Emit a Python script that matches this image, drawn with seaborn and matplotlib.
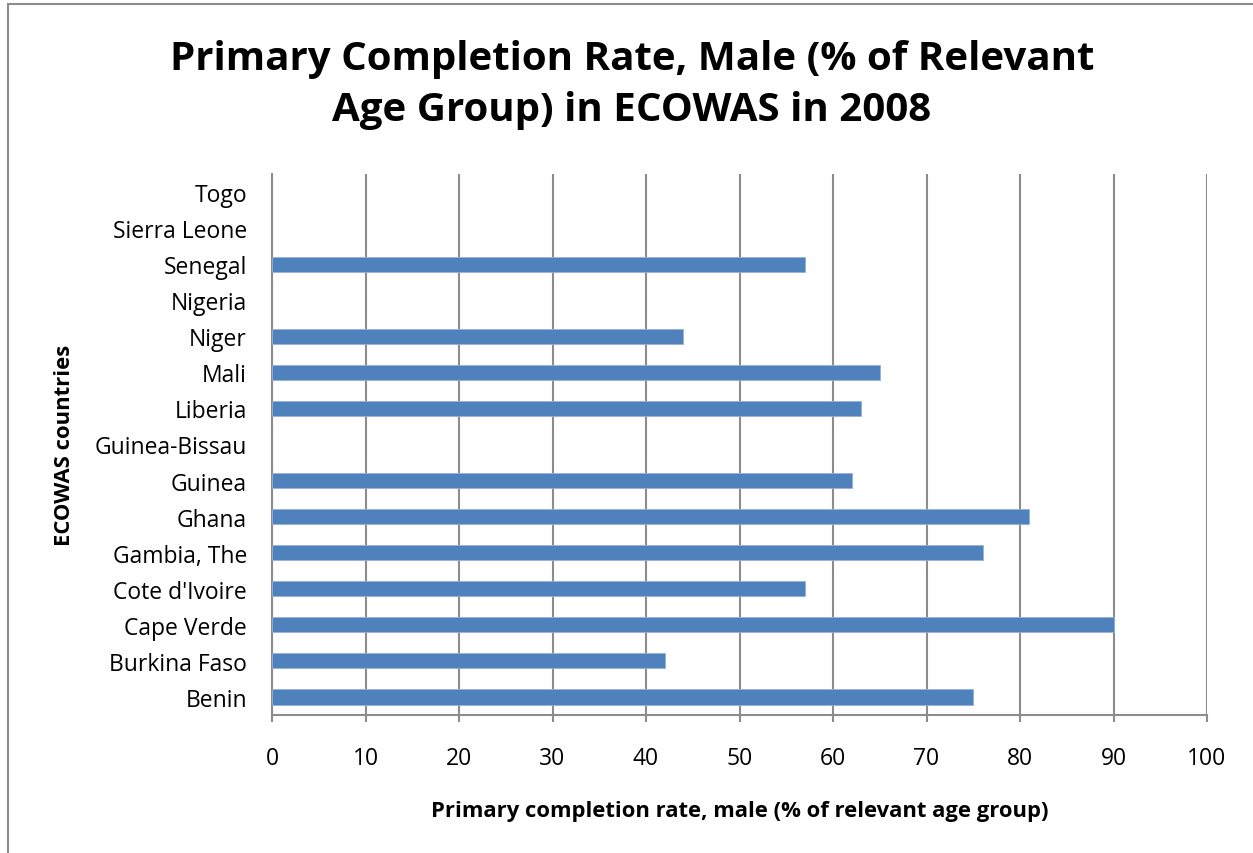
import numpy as np
import pandas as pd
import matplotlib
matplotlib.use("Agg")
import matplotlib.pyplot as plt
import seaborn as sns
from matplotlib.patches import Rectangle

# data (top to bottom as shown)
countries = ['Togo', 'Sierra Leone', 'Senegal', 'Nigeria', 'Niger', 'Mali',
             'Liberia', 'Guinea-Bissau', 'Guinea', 'Ghana', 'Gambia, The',
             "Cote d'Ivoire", 'Cape Verde', 'Burkina Faso', 'Benin']
completion_male = [np.nan, np.nan, 57, np.nan, 44, 65, 63, np.nan, 62, 81, 76,
                   57, 90, 42, 75]
x_ticks = [0, 10, 20, 30, 40, 50, 60, 70, 80, 90, 100]

df = pd.DataFrame({'country': countries, 'rate': completion_male})

sns.set_theme(style="white")
plt.rcParams['font.family'] = ['Open Sans', 'DejaVu Sans']
plt.rcParams['text.color'] = 'black'
plt.rcParams['axes.labelcolor'] = 'black'

fig = plt.figure(figsize=(12.53, 8.54), dpi=100)
ax = fig.add_axes([272 / 1253, 1 - 716 / 854, (1207 - 272) / 1253, (716 - 175) / 854])

sns.barplot(data=df, x='rate', y='country', order=countries, orient='h',
            color='#4F81BD', saturation=1, width=0.42, ax=ax, zorder=3)
for p in ax.patches:
    p.set_edgecolor('#95B3D7')
    p.set_linewidth(0.6)

ax.set_xlim(0, 100)
ax.set_ylim(len(countries) - 0.5, -0.5)
ax.set_xticks(x_ticks)
ax.set_xticklabels([str(t) for t in x_ticks])

ax.grid(axis='x', color='#8C8C8C', linewidth=1.5, zorder=0)
ax.grid(axis='y', visible=False)
for side in ['top', 'right']:
    ax.spines[side].set_visible(False)
ax.spines['left'].set_color('#8C8C8C')
ax.spines['left'].set_linewidth(1.5)
ax.spines['bottom'].set_color('#8C8C8C')
ax.spines['bottom'].set_linewidth(1.5)

ax.tick_params(axis='x', which='both', bottom=True, length=5, width=1.5,
               color='#8C8C8C', pad=17, labelsize=16.5, labelcolor='black')
ax.tick_params(axis='y', left=False, pad=12, labelsize=16.5, labelcolor='black')

ax.set_xlabel('Primary completion rate, male (% of relevant age group)',
              fontsize=15.8, fontweight='bold', labelpad=22)
ax.set_ylabel('ECOWAS countries', fontsize=15.8, fontweight='bold', labelpad=14)

fig.text(632 / 1253, 1 - 85 / 854,
         'Primary Completion Rate, Male (% of Relevant\nAge Group) in ECOWAS in 2008',
         ha='center', va='center', fontsize=29, fontweight='bold',
         linespacing=1.4, color='black')

# chart frame
fig.patches.append(Rectangle((8 / 1253, -0.05), 1.1, 1 - 5 / 854 + 0.05,
                             transform=fig.transFigure, fill=False,
                             edgecolor='#8C8C8C', linewidth=1.5))

fig.savefig('out.png', dpi=100, facecolor='white')
